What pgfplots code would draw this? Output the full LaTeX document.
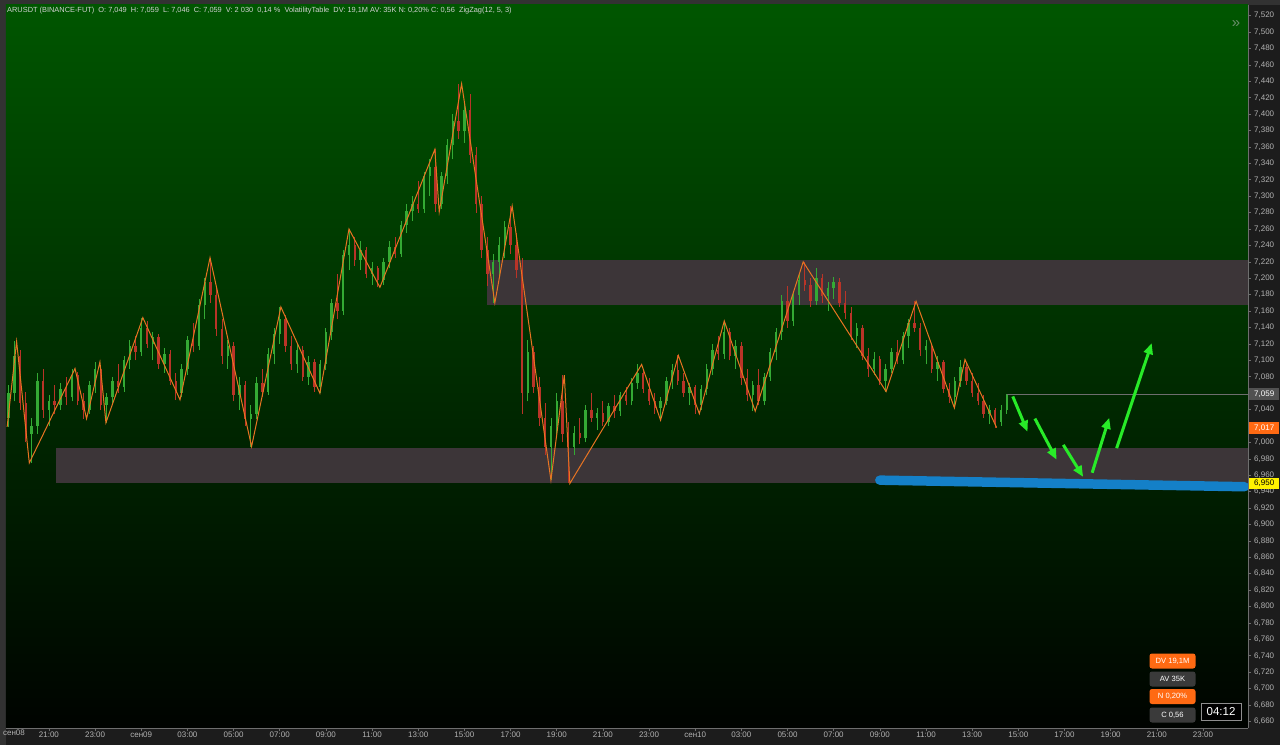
\documentclass[border=0pt]{standalone}
\usepackage{pgfplots}
\pgfplotsset{compat=1.18}
\usepackage{pgfplotstable}
\usepackage{fontspec}
\setmainfont{Liberation Sans}
\usetikzlibrary{arrows.meta}

\definecolor{panel}{RGB}{28,28,28}
\definecolor{edge}{RGB}{50,50,50}
\definecolor{lbl}{RGB}{178,178,178}
\definecolor{axln}{RGB}{110,110,110}
\definecolor{bgtop}{RGB}{0,86,0}
\definecolor{bgbot}{RGB}{0,3,0}
\definecolor{zone}{RGB}{60,53,56}
\definecolor{cup}{RGB}{52,170,52}
\definecolor{cdn}{RGB}{185,52,40}
\definecolor{zz}{RGB}{232,116,34}
\definecolor{lvl}{RGB}{20,128,200}
\definecolor{arr}{RGB}{40,235,40}
\definecolor{tv}{RGB}{255,106,19}
\definecolor{boxg}{RGB}{58,58,58}

% 15-min candles, t = hours from 08 Sep 00:00
\pgfplotstableread{
t o h l c
19.25 7.030 7.070 7.019 7.060
19.50 7.060 7.123 7.050 7.105
19.75 7.105 7.112 7.040 7.048
20.00 7.048 7.062 7.000 7.010
20.25 7.010 7.030 6.975 7.020
20.50 7.020 7.085 7.010 7.075
20.75 7.075 7.090 7.030 7.040
21.00 7.040 7.058 7.020 7.050
21.25 7.050 7.070 7.035 7.045
21.50 7.045 7.072 7.040 7.065
21.75 7.065 7.080 7.045 7.055
22.00 7.055 7.090 7.050 7.082
22.25 7.082 7.086 7.045 7.050
22.50 7.050 7.060 7.029 7.040
22.75 7.040 7.075 7.035 7.070
23.00 7.070 7.098 7.060 7.090
23.25 7.090 7.094 7.040 7.045
23.50 7.045 7.060 7.024 7.055
23.75 7.055 7.080 7.045 7.075
24.00 7.075 7.095 7.060 7.068
24.25 7.068 7.105 7.062 7.100
24.50 7.100 7.125 7.090 7.118
24.75 7.118 7.130 7.100 7.110
25.00 7.110 7.152 7.105 7.140
25.25 7.140 7.148 7.115 7.120
25.50 7.120 7.135 7.100 7.128
25.75 7.128 7.132 7.090 7.095
26.00 7.095 7.115 7.085 7.108
26.25 7.108 7.112 7.070 7.075
26.50 7.075 7.085 7.052 7.060
26.75 7.060 7.095 7.055 7.090
27.00 7.090 7.130 7.082 7.125
27.25 7.125 7.145 7.110 7.118
27.50 7.118 7.175 7.112 7.168
27.75 7.168 7.200 7.150 7.195
28.00 7.195 7.225 7.170 7.180
28.25 7.180 7.190 7.130 7.138
28.50 7.138 7.150 7.095 7.105
28.75 7.105 7.125 7.090 7.118
29.00 7.118 7.122 7.050 7.058
29.25 7.058 7.080 7.040 7.070
29.50 7.070 7.075 7.020 7.028
29.75 7.028 7.045 6.995 7.035
30.00 7.035 7.080 7.028 7.072
30.25 7.072 7.090 7.055 7.062
30.50 7.062 7.115 7.058 7.108
30.75 7.108 7.140 7.095 7.132
31.00 7.132 7.165 7.120 7.150
31.25 7.150 7.155 7.110 7.118
31.50 7.118 7.130 7.088 7.095
31.75 7.095 7.120 7.085 7.112
32.00 7.112 7.118 7.075 7.080
32.25 7.080 7.105 7.070 7.098
32.50 7.098 7.102 7.062 7.068
32.75 7.068 7.100 7.060 7.095
33.00 7.095 7.140 7.088 7.135
33.25 7.135 7.175 7.125 7.170
33.50 7.170 7.205 7.150 7.160
33.75 7.160 7.235 7.155 7.228
34.00 7.228 7.260 7.210 7.240
34.25 7.240 7.250 7.215 7.222
34.50 7.222 7.245 7.210 7.235
34.75 7.235 7.238 7.200 7.205
35.00 7.205 7.220 7.192 7.212
35.25 7.212 7.215 7.189 7.198
35.50 7.198 7.225 7.192 7.220
35.75 7.220 7.245 7.212 7.238
36.00 7.238 7.250 7.225 7.230
36.25 7.230 7.270 7.226 7.265
36.50 7.265 7.290 7.255 7.282
36.75 7.282 7.300 7.270 7.290
37.00 7.290 7.318 7.280 7.285
37.25 7.285 7.330 7.280 7.325
37.50 7.325 7.345 7.300 7.335
37.75 7.335 7.357 7.281 7.290
38.00 7.290 7.330 7.285 7.325
38.25 7.325 7.370 7.315 7.362
38.50 7.362 7.400 7.345 7.392
38.75 7.392 7.437 7.370 7.380
39.00 7.380 7.415 7.365 7.405
39.25 7.405 7.425 7.340 7.350
39.50 7.350 7.360 7.280 7.290
39.75 7.290 7.300 7.225 7.235
40.00 7.235 7.250 7.190 7.205
40.25 7.205 7.230 7.170 7.220
40.50 7.220 7.250 7.200 7.240
40.75 7.240 7.270 7.225 7.262
41.00 7.262 7.288 7.230 7.240
41.25 7.240 7.255 7.200 7.210
41.50 7.210 7.225 7.035 7.060
41.75 7.060 7.125 7.050 7.110
42.00 7.110 7.118 7.060 7.068
42.25 7.068 7.080 7.020 7.030
42.50 7.030 7.048 6.985 6.995
42.75 6.995 7.030 6.954 7.020
43.00 7.020 7.060 7.010 7.050
43.25 7.050 7.082 7.000 7.010
43.50 7.010 7.025 6.950 6.995
43.75 6.995 7.020 6.985 7.012
44.00 7.012 7.030 6.998 7.005
44.25 7.005 7.045 7.000 7.040
44.50 7.040 7.060 7.025 7.030
44.75 7.030 7.042 7.015 7.036
45.00 7.036 7.050 7.020 7.025
45.25 7.025 7.048 7.020 7.044
45.50 7.044 7.058 7.030 7.038
45.75 7.038 7.062 7.032 7.058
46.00 7.058 7.068 7.045 7.050
46.25 7.050 7.078 7.045 7.072
46.50 7.072 7.095 7.065 7.085
46.75 7.085 7.090 7.060 7.065
47.00 7.065 7.078 7.045 7.050
47.25 7.050 7.060 7.035 7.042
47.50 7.042 7.055 7.027 7.050
47.75 7.050 7.080 7.045 7.075
48.00 7.075 7.095 7.065 7.088
48.25 7.088 7.106 7.070 7.075
48.50 7.075 7.085 7.055 7.060
48.75 7.060 7.072 7.045 7.068
49.00 7.068 7.070 7.035 7.045
49.25 7.045 7.070 7.040 7.065
49.50 7.065 7.095 7.058 7.090
49.75 7.090 7.120 7.082 7.112
50.00 7.112 7.130 7.100 7.108
50.25 7.108 7.148 7.102 7.135
50.50 7.135 7.140 7.100 7.105
50.75 7.105 7.125 7.090 7.118
51.00 7.118 7.122 7.070 7.078
51.25 7.078 7.090 7.050 7.058
51.50 7.058 7.075 7.038 7.070
51.75 7.070 7.090 7.045 7.050
52.00 7.050 7.085 7.045 7.080
52.25 7.080 7.115 7.075 7.110
52.50 7.110 7.140 7.100 7.135
52.75 7.135 7.180 7.125 7.172
53.00 7.172 7.190 7.140 7.148
53.25 7.148 7.185 7.142 7.180
53.50 7.180 7.205 7.168 7.198
53.75 7.198 7.220 7.185 7.192
54.00 7.192 7.200 7.165 7.172
54.25 7.172 7.212 7.168 7.200
54.50 7.200 7.205 7.170 7.178
54.75 7.178 7.195 7.160 7.188
55.00 7.188 7.202 7.175 7.195
55.25 7.195 7.200 7.165 7.170
55.50 7.170 7.185 7.150 7.158
55.75 7.158 7.165 7.125 7.130
56.00 7.130 7.145 7.115 7.140
56.25 7.140 7.143 7.100 7.105
56.50 7.105 7.115 7.080 7.090
56.75 7.090 7.110 7.082 7.102
57.00 7.102 7.105 7.070 7.075
57.25 7.075 7.095 7.062 7.090
57.50 7.090 7.115 7.085 7.110
57.75 7.110 7.125 7.095 7.100
58.00 7.100 7.135 7.095 7.130
58.25 7.130 7.150 7.115 7.145
58.50 7.145 7.172 7.135 7.140
58.75 7.140 7.145 7.105 7.112
59.00 7.112 7.125 7.095 7.118
59.25 7.118 7.120 7.085 7.090
59.50 7.090 7.105 7.075 7.098
59.75 7.098 7.100 7.060 7.065
60.00 7.065 7.072 7.048 7.055
60.25 7.055 7.080 7.042 7.075
60.50 7.075 7.101 7.068 7.092
60.75 7.092 7.098 7.070 7.075
61.00 7.075 7.085 7.055 7.060
61.25 7.060 7.072 7.045 7.050
61.50 7.050 7.058 7.030 7.035
61.75 7.035 7.045 7.022 7.040
62.00 7.040 7.042 7.018 7.025
62.25 7.025 7.045 7.020 7.040
62.50 7.040 7.059 7.035 7.059
}\candles

\begin{document}
\begin{tikzpicture}
% screenshot pixel frame: (X,Y) from the top left corner
\begin{scope}[x=1pt, y=1pt, shift={(-6pt,728pt)}, yscale=-1]
  \fill[panel] (0,0) rectangle (1280,745);
  \fill[edge] (0,0) rectangle (6,745);
  \fill[edge] (0,0) rectangle (1280,5);
\end{scope}
\useasboundingbox (-6pt,-17pt) rectangle (1274pt,728pt);

\begin{axis}[
  at={(0pt,0pt)}, anchor=south west,
  scale only axis, width=1242pt, height=723pt,
  xmin=19.14, xmax=72.95, ymin=6.652, ymax=7.533,
  axis background/.style={shade, top color=bgtop, bottom color=bgbot},
  axis x line*=bottom, axis y line*=right,
  axis line style={draw=axln, line width=0.6pt},
  tick align=outside, major tick length=3pt,
  tick style={draw=axln, line width=0.6pt},
  xtick={21,23,...,71},
  xticklabels={21:00,23:00,сен09,03:00,05:00,07:00,09:00,11:00,13:00,15:00,17:00,19:00,21:00,23:00,сен10,03:00,05:00,07:00,09:00,11:00,13:00,15:00,17:00,19:00,21:00,23:00},
  ytick distance=0.02,
  /pgf/number format/fixed, /pgf/number format/fixed zerofill,
  /pgf/number format/precision=3, /pgf/number format/use comma,
  /pgf/number format/assume math mode=true,
  yticklabel style={font=\fontsize{8}{9}\selectfont, text=lbl, inner sep=1pt, xshift=2pt},
  xticklabel style={font=\fontsize{8}{9}\selectfont, text=lbl, inner sep=1pt},
]
% supply / demand zones
\addplot[fill=zone, draw=none] coordinates {(39.98,7.167)(72.95,7.167)(72.95,7.222)(39.98,7.222)} -- cycle;
\addplot[fill=zone, draw=none] coordinates {(21.30,6.951)(72.95,6.951)(72.95,6.993)(21.30,6.993)} -- cycle;

% candles: wicks then bodies
\addplot[cup, line width=0.8pt, restrict expr to domain={\thisrow{c}-\thisrow{o}}{0:1},
  quiver={u=0, v=\thisrow{h}-\thisrow{l}}] table[x=t, y=l] {\candles};
\addplot[cdn, line width=0.8pt, restrict expr to domain={\thisrow{c}-\thisrow{o}}{-1:-0.0001},
  quiver={u=0, v=\thisrow{h}-\thisrow{l}}] table[x=t, y=l] {\candles};
\addplot[cup, line width=2.4pt, restrict expr to domain={\thisrow{c}-\thisrow{o}}{0:1},
  quiver={u=0, v=\thisrow{c}-\thisrow{o}}] table[x=t, y=o] {\candles};
\addplot[cdn, line width=2.4pt, restrict expr to domain={\thisrow{c}-\thisrow{o}}{-1:-0.0001},
  quiver={u=0, v=\thisrow{c}-\thisrow{o}}] table[x=t, y=o] {\candles};

% ZigZag(12,5,3)
\addplot[zz, line width=1pt] coordinates {
(19.19,7.019)(19.60,7.123)(20.15,6.975)(22.13,7.090)(22.63,7.029)(23.21,7.098)
(23.47,7.024)(25.07,7.152)(26.68,7.052)(27.98,7.225)(29.78,6.995)(31.05,7.165)
(32.74,7.060)(34.00,7.260)(35.34,7.189)(37.72,7.357)(37.91,7.281)(38.88,7.437)
(40.32,7.170)(41.07,7.288)(42.75,6.954)(43.33,7.082)(43.57,6.950)(46.68,7.095)
(47.50,7.027)(48.27,7.106)(49.18,7.035)(50.26,7.148)(51.60,7.038)(53.68,7.220)
(57.27,7.062)(58.57,7.172)(60.23,7.042)(60.69,7.101)(62.06,7.018)};

% last price line
\addplot[axln, line width=0.4pt] coordinates {(62.50,7.059)(72.95,7.059)};

% level and forecast arrows
\addplot[lvl, line width=9.5pt, line cap=round] coordinates {(57.00,6.954)(72.80,6.946)};
\addplot[arr, line width=3pt, -{Triangle[length=11pt,width=9pt]}] coordinates {(62.76,7.056)(63.40,7.013)};
\addplot[arr, line width=3pt, -{Triangle[length=11pt,width=9pt]}] coordinates {(63.72,7.029)(64.66,6.979)};
\addplot[arr, line width=3pt, -{Triangle[length=11pt,width=9pt]}] coordinates {(64.95,6.997)(65.81,6.958)};
\addplot[arr, line width=3pt, -{Triangle[length=11pt,width=9pt]}] coordinates {(66.20,6.963)(66.94,7.030)};
\addplot[arr, line width=3pt, -{Triangle[length=11pt,width=9pt]}] coordinates {(67.26,6.993)(68.78,7.121)};
\end{axis}

\begin{scope}[x=1pt, y=1pt, shift={(-6pt,728pt)}, yscale=-1]
  \node[anchor=west, inner sep=0pt, text=lbl!60!white, font=\fontsize{7.4}{8}\selectfont] at (7,11)
    {ARUSDT (BINANCE-FUT)\ \ O: 7,049\ \ H: 7,059\ \ L: 7,046\ \ C: 7,059\ \ V: 2 030\ \ 0,14 \%\ \ VolatilityTable\ \ DV: 19,1M AV: 35K N: 0,20\% C: 0,56\ \ ZigZag(12, 5, 3)};
  \node[text=lbl!60!bgtop, font=\fontsize{15}{15}\selectfont] at (1236,24) {»};
  \node[text=lbl, font=\fontsize{8}{9}\selectfont] at (14,733) {сен08};
  % price tags (they cover the scale labels beneath them)
  \node[anchor=west, fill=axln!120, text=white, font=\fontsize{8}{9}\selectfont, minimum width=30pt, minimum height=12pt, inner sep=0pt] at (1249,394) {7,059};
  \node[anchor=west, fill=tv, text=white, font=\fontsize{8}{9}\selectfont, minimum width=30pt, minimum height=12pt, inner sep=0pt] at (1249,428.5) {7,017};
  \node[anchor=west, fill=yellow, text=black, font=\fontsize{8}{9}\selectfont, minimum width=30pt, minimum height=11pt, inner sep=0pt] at (1249,483.5) {6,950};
  % volatility table
  \node[fill=tv, rounded corners=2.5pt, minimum width=46pt, minimum height=15pt, inner sep=0pt, text=white, font=\fontsize{7.6}{8}\selectfont] at (1172.5,661) {DV 19,1M};
  \node[fill=boxg, rounded corners=2.5pt, minimum width=46pt, minimum height=15pt, inner sep=0pt, text=white, font=\fontsize{7.6}{8}\selectfont] at (1172.5,679) {AV 35K};
  \node[fill=tv, rounded corners=2.5pt, minimum width=46pt, minimum height=15pt, inner sep=0pt, text=white, font=\fontsize{7.6}{8}\selectfont] at (1172.5,696.5) {N 0,20\%};
  \node[fill=boxg, rounded corners=2.5pt, minimum width=46pt, minimum height=15pt, inner sep=0pt, text=white, font=\fontsize{7.6}{8}\selectfont] at (1172.5,715) {C 0,56};
  \node[draw=lbl!80!black, fill=black, minimum width=40pt, minimum height=17pt, inner sep=0pt, text=white, font=\fontsize{11.5}{12}\selectfont] at (1221,711.5) {04:12};
\end{scope}
\end{tikzpicture}
\end{document}
